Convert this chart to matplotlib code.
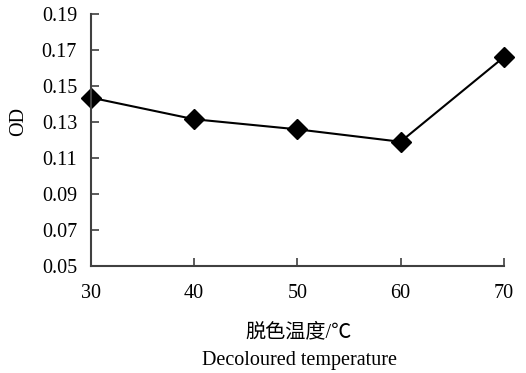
import matplotlib
matplotlib.use("Agg")
import matplotlib.pyplot as plt

temperature = [30, 40, 50, 60, 70]
od = [0.1433, 0.1313, 0.1257, 0.1188, 0.1657]
yticks = [0.05, 0.07, 0.09, 0.11, 0.13, 0.15, 0.17, 0.19]

plt.rcParams['font.family'] = ['Liberation Serif', 'Noto Sans CJK SC']
plt.rcParams['font.size'] = 14.5

fig = plt.figure(figsize=(5.26, 3.73), dpi=100)
ax = fig.add_axes([0.173, 0.2877, 0.7846, 0.6761])

ax.plot(temperature, od, color='black', lw=1.5, marker='D', ms=10.5,
        markerfacecolor='black', markeredgecolor='black', clip_on=False)

ax.set_xlim(30, 70)
ax.set_ylim(0.05, 0.19)
ax.set_xticks(temperature)
ax.set_yticks(yticks)
ax.set_yticklabels(['%.2f' % v for v in yticks])

for s in ['top', 'right']:
    ax.spines[s].set_visible(False)
for s in ['left', 'bottom']:
    ax.spines[s].set_color('#404040')
    ax.spines[s].set_linewidth(1.5)
ax.tick_params(direction='in', length=5.5, width=1.2, color='#404040', labelsize=14.5)
ax.tick_params(axis='x', pad=13)
ax.tick_params(axis='y', pad=10)

fig.text(19 / 526, 1 - 122 / 373, 'OD', rotation=90, ha='center', va='center', fontsize=14.5)
fig.text(299 / 526, 1 - 333 / 373, '脱色温度/℃', ha='center', va='center', fontsize=14.5)
fig.text(299 / 526, 1 - 361 / 373, 'Decoloured temperature', ha='center', va='center', fontsize=14.5)

fig.savefig('out.png', dpi=100)
